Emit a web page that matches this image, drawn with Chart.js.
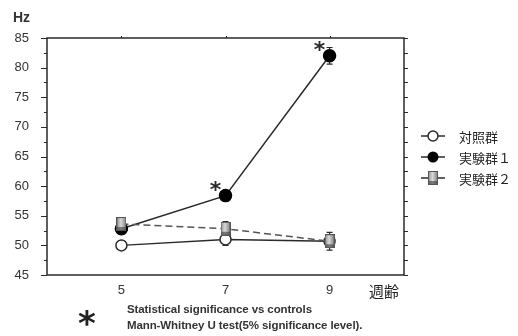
<!DOCTYPE html>
<html>
<head>
<meta charset="utf-8">
<script src="https://cdn.jsdelivr.net/npm/chart.js@4.4.1/dist/chart.umd.min.js"></script>
<style>
  html, body { margin: 0; padding: 0; background: #fff; }
  #wrap { position: relative; width: 518px; height: 336px; overflow: hidden; }
  #wrap canvas { position: absolute; left: 0; top: 0; }
  .lbl { position: absolute; color: #222; white-space: nowrap; }
  .cjk { font-family: "Noto Sans CJK JP", sans-serif; }
  .note { font-family: "Liberation Sans Narrow", "Liberation Sans", sans-serif;
          font-size: 11.5px; font-weight: bold; color: #333; letter-spacing: -0.1px; }
</style>
</head>
<body>
<div id="wrap">
  <canvas id="chart" width="518" height="336"></canvas>
  <div class="lbl" style="left:13px;top:9px;font-family:'Liberation Sans',sans-serif;font-size:14px;font-weight:bold;color:#333;">Hz</div>
  <div class="lbl cjk" style="left:369px;top:280px;font-size:15px;">週齢</div>
  <div class="lbl cjk" style="left:459px;top:127px;font-size:13px;">対照群</div>
  <div class="lbl cjk" style="left:459px;top:148px;font-size:13px;">実験群１</div>
  <div class="lbl cjk" style="left:459px;top:169px;font-size:13px;">実験群２</div>
  <div class="lbl" style="left:78px;top:306px;font-family:'DejaVu Sans',sans-serif;font-size:34px;font-weight:bold;line-height:34px;">*</div>
  <div class="lbl note" style="left:127px;top:303px;">Statistical significance vs controls</div>
  <div class="lbl note" style="left:127px;top:319px;">Mann-Whitney U test(5% significance level).</div>
</div>
<script>
// ── Datos ─────────────────────────────────────────────
var weeks = [5, 7, 9];
var controlMean = [50.0, 51.0, 50.7];
var controlErr = [0.7, 1.0, 0.8];
var exp1Mean = [52.8, 58.4, 82.0];
var exp1Err = [0.6, 0.7, 1.4];
var exp2Mean = [53.6, 52.8, 50.7];
var exp2Err = [1.0, 1.2, 1.5];
var exp1Signif = [false, true, true];
var yTicks = [45, 50, 55, 60, 65, 70, 75, 80, 85];

var INK = '#2a2a2a';

// marcador cilíndrico gris (実験群2)
function makeCylinder() {
    var c = document.createElement('canvas');
    c.width = 10; c.height = 14;
    var g = c.getContext('2d');
    var grad = g.createLinearGradient(0, 0, 10, 0);
    grad.addColorStop(0, '#8a8a8a');
    grad.addColorStop(0.45, '#d8d8d8');
    grad.addColorStop(1, '#7a7a7a');
    g.fillStyle = grad;
    g.fillRect(0.5, 0.5, 9, 13);
    g.strokeStyle = '#555';
    g.lineWidth = 1;
    g.strokeRect(0.5, 0.5, 9, 13);
    g.fillStyle = 'rgba(60,60,60,0.6)';
    g.fillRect(1, 10, 8, 3);
    return c;
}
var cylinder = makeCylinder();

function pts(means) {
    return weeks.map(function (w, i) { return { x: w, y: means[i] }; });
}

var series = [
    { data: pts(exp2Mean), err: exp2Err },
    { data: pts(exp1Mean), err: exp1Err },
    { data: pts(controlMean), err: controlErr }
];

// ── Plugin: marco, ticks, barras de error, asteriscos, leyenda ──
var decor = {
    id: 'decor',
    beforeDatasetsDraw: function (chart) {
        var ctx = chart.ctx, a = chart.chartArea;
        var xs = chart.scales.x, ys = chart.scales.y;
        ctx.save();
        ctx.strokeStyle = INK;
        ctx.lineWidth = 1.5;
        ctx.strokeRect(a.left, a.top, a.right - a.left, a.bottom - a.top);
        ctx.lineWidth = 1;
        for (var v = 45; v <= 85; v += 2.5) {
            var py = Math.round(ys.getPixelForValue(v)) + 0.5;
            var major = v % 5 === 0;
            ctx.beginPath();
            ctx.moveTo(a.left, py); ctx.lineTo(a.left - (major ? 6 : 3), py);
            ctx.moveTo(a.right, py); ctx.lineTo(a.right + 4, py);
            ctx.stroke();
        }
        weeks.forEach(function (w) {
            var px = Math.round(xs.getPixelForValue(w)) + 0.5;
            ctx.beginPath();
            ctx.moveTo(px, a.top); ctx.lineTo(px, a.top - 2);
            ctx.stroke();
        });
        // barras de error
        ctx.lineWidth = 1.2;
        series.forEach(function (s) {
            s.data.forEach(function (p, i) {
                var px = xs.getPixelForValue(p.x);
                var y1 = ys.getPixelForValue(p.y + s.err[i]);
                var y2 = ys.getPixelForValue(p.y - s.err[i]);
                ctx.beginPath();
                ctx.moveTo(px, y1); ctx.lineTo(px, y2);
                ctx.moveTo(px - 3, y1); ctx.lineTo(px + 3, y1);
                ctx.moveTo(px - 3, y2); ctx.lineTo(px + 3, y2);
                ctx.stroke();
            });
        });
        ctx.restore();
    },
    afterDatasetsDraw: function (chart) {
        var ctx = chart.ctx;
        var xs = chart.scales.x, ys = chart.scales.y;
        ctx.save();
        ctx.fillStyle = INK;
        ctx.font = 'bold 22px "DejaVu Sans", sans-serif';
        ctx.textAlign = 'center';
        ctx.textBaseline = 'middle';
        exp1Signif.forEach(function (s, i) {
            if (!s) return;
            var px = xs.getPixelForValue(weeks[i]);
            var py = ys.getPixelForValue(exp1Mean[i]);
            ctx.fillText('*', px - 10, py - 4);
        });
        // leyenda (marcadores)
        var lx1 = 421, lx2 = 445, cx = 433;
        var rows = [136, 157, 178];
        ctx.strokeStyle = INK;
        ctx.lineWidth = 1.5;
        rows.forEach(function (y) {
            ctx.beginPath(); ctx.moveTo(lx1, y); ctx.lineTo(lx2, y); ctx.stroke();
        });
        ctx.fillStyle = '#fff';
        ctx.beginPath(); ctx.arc(cx, rows[0], 5, 0, Math.PI * 2); ctx.fill(); ctx.stroke();
        ctx.fillStyle = '#000';
        ctx.beginPath(); ctx.arc(cx, rows[1], 5.5, 0, Math.PI * 2); ctx.fill();
        ctx.drawImage(cylinder, cx - 5, rows[2] - 7);
        ctx.restore();
    }
};

new Chart(document.getElementById('chart'), {
    type: 'scatter',
    data: {
        datasets: [
            {
                label: '実験群２',
                data: series[0].data,
                showLine: true,
                borderColor: '#555',
                borderWidth: 1.5,
                borderDash: [7, 4],
                pointStyle: cylinder,
                order: 0
            },
            {
                label: '実験群１',
                data: series[1].data,
                showLine: true,
                borderColor: INK,
                borderWidth: 1.5,
                pointStyle: 'circle',
                pointRadius: 6,
                pointBackgroundColor: '#000',
                pointBorderColor: '#000',
                order: 1
            },
            {
                label: '対照群',
                data: series[2].data,
                showLine: true,
                borderColor: INK,
                borderWidth: 1.5,
                pointStyle: 'circle',
                pointRadius: 5.5,
                pointBackgroundColor: '#fff',
                pointBorderColor: INK,
                pointBorderWidth: 1.5,
                order: 2
            }
        ]
    },
    options: {
        responsive: false,
        animation: false,
        events: [],
        layout: { padding: { top: 38, right: 114, left: 0, bottom: 0 } },
        plugins: { legend: { display: false }, tooltip: { enabled: false } },
        scales: {
            x: {
                type: 'linear',
                min: 3.57,
                max: 10.43,
                grid: { display: false },
                border: { display: false },
                afterBuildTicks: function (s) {
                    s.ticks = weeks.map(function (w) { return { value: w }; });
                },
                afterFit: function (s) { s.height = 61; },
                ticks: {
                    padding: 0,
                    color: '#333',
                    font: { family: "'Liberation Sans', sans-serif", size: 13 }
                }
            },
            y: {
                min: 45,
                max: 85,
                grid: { display: false },
                border: { display: false },
                afterBuildTicks: function (s) {
                    s.ticks = yTicks.map(function (v) { return { value: v }; });
                },
                afterFit: function (s) { s.width = 47; },
                ticks: {
                    padding: 10,
                    color: '#333',
                    font: { family: "'Liberation Sans', sans-serif", size: 13 }
                }
            }
        }
    },
    plugins: [decor]
});
</script>
</body>
</html>
